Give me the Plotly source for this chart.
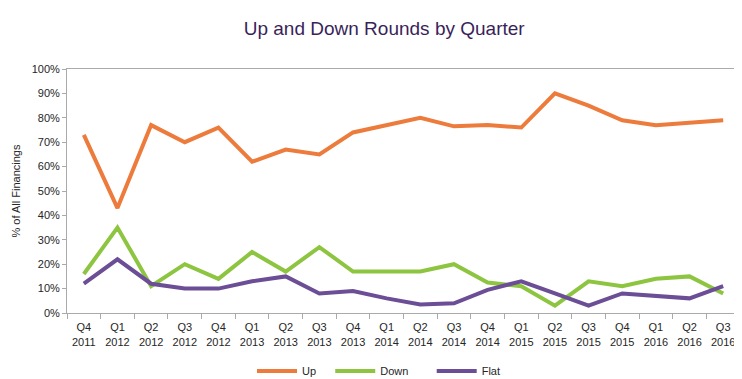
import plotly.graph_objects as go

quarters = ["Q4<br>2011", "Q1<br>2012", "Q2<br>2012", "Q3<br>2012", "Q4<br>2012",
            "Q1<br>2013", "Q2<br>2013", "Q3<br>2013", "Q4<br>2013",
            "Q1<br>2014", "Q2<br>2014", "Q3<br>2014", "Q4<br>2014",
            "Q1<br>2015", "Q2<br>2015", "Q3<br>2015", "Q4<br>2015",
            "Q1<br>2016", "Q2<br>2016", "Q3<br>2016"]
up = [73, 43, 77, 70, 76, 62, 67, 65, 74, 77, 80, 76.5, 77, 76, 90, 85, 79, 77, 78, 79]
down = [16, 35, 11, 20, 14, 25, 17, 27, 17, 17, 17, 20, 12.5, 11, 3, 13, 11, 14, 15, 8]
flat = [12, 22, 12, 10, 10, 13, 15, 8, 9, 6, 3.5, 4, 9.5, 13, 8, 3, 8, 7, 6, 11]

series = [("Up", up, "#EC7B3C", "\u00a0\u00a0\u00a0"),
          ("Down", down, "#8DC540", "\u00a0\u00a0\u00a0\u00a0\u00a0\u00a0"),
          ("Flat", flat, "#6B4E96", "")]

fig = go.Figure()
for name, vals, color, pad in series:
    fig.add_trace(go.Scatter(x=quarters, y=vals, name=name + pad, mode="lines",
                             line=dict(color=color, width=4)))

font_family = "Liberation Sans, Arial, sans-serif"
txt = "#262626"
fig.update_layout(
    width=742, height=379,
    margin=dict(l=59, r=10, t=61, b=74, autoexpand=False),
    paper_bgcolor="white", plot_bgcolor="white",
    font=dict(family=font_family, size=11, color=txt),
    title=dict(text="Up and Down Rounds by Quarter", x=0.507, xref="container",
               xanchor="center", y=0.947, yanchor="middle",
               font=dict(family=font_family, size=19, color="#3A1F5A")),
    showlegend=True,
    legend=dict(orientation="h", x=0.4636, xanchor="center",
                y=-0.238, yanchor="middle",
                font=dict(size=11, color=txt), itemwidth=40,
                traceorder="normal"),
    xaxis=dict(showgrid=False, showline=True, linecolor="#AAAAAA", linewidth=1,
               mirror=True, ticks="outside", tickson="boundaries", ticklen=5,
               tickcolor="#AAAAAA", tickfont=dict(size=11, color=txt),
               tickangle=0, range=[-0.5, len(quarters) - 0.5], ticklabelstandoff=4),
    yaxis=dict(range=[0, 100], dtick=10, ticksuffix="%", showgrid=False,
               showline=True, linecolor="#AAAAAA", linewidth=1, ticks="outside",
               ticklen=4, tickcolor="#AAAAAA", zeroline=False,
               title=dict(text="% of All Financings", font=dict(size=11, color=txt),
                          standoff=8),
               tickfont=dict(size=11, color=txt)),
)

fig.write_html("out.html")
